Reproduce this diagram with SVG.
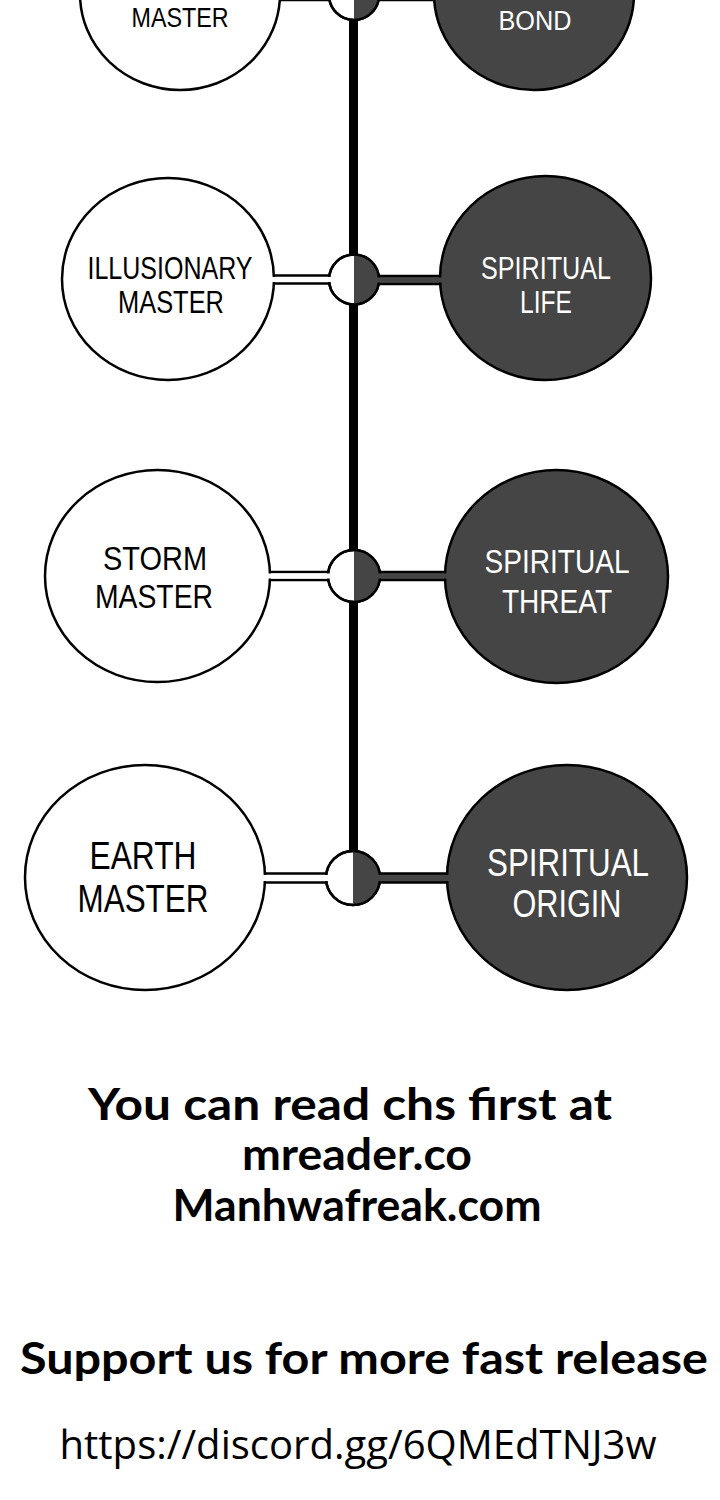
<svg xmlns="http://www.w3.org/2000/svg" width="720" height="1500" viewBox="0 0 720 1500">
<style>
.lc{fill:#fff;stroke:#000;stroke-width:2.5}
.rc{fill:#454545;stroke:#000;stroke-width:2.5}
.co{fill:#fff;stroke:#000;stroke-width:2.5}
.cd{fill:#454545;stroke:#000;stroke-width:2.5}
.fw{fill:#fff}
.fd{fill:#454545}
.jw{fill:#fff;stroke:#000;stroke-width:2.5}
.jd{fill:#454545}
.jo{fill:none;stroke:#000;stroke-width:2.5}
.lt{font-family:"Liberation Sans",Arial,sans-serif;fill:#000;text-anchor:middle}
.rt{font-family:"Liberation Sans",Arial,sans-serif;fill:#fff;text-anchor:middle}
.big{font-family:"Lato","Liberation Sans",sans-serif;font-weight:700;fill:#000;text-anchor:middle}
.url{font-family:"Open Sans","Liberation Sans",sans-serif;fill:#000;text-anchor:middle}
</style>
<rect width="720" height="1500" fill="#fff"/>
<g id="connectors">
<rect x="349" y="-10" width="9" height="870" fill="#000"/>
<rect class="co" x="240" y="-8" width="100" height="8"/>
<rect class="cd" x="370" y="-8" width="100" height="8"/>
<rect class="co" x="240" y="275.5" width="100" height="8"/>
<rect class="cd" x="370" y="276" width="110" height="8"/>
<rect class="co" x="240" y="572" width="100" height="8"/>
<rect class="cd" x="370" y="572" width="110" height="8"/>
<rect class="co" x="240" y="873.5" width="100" height="9"/>
<rect class="cd" x="370" y="873.5" width="110" height="9"/>
</g>
<g id="node-master-top">
<ellipse class="lc" cx="180" cy="-6" rx="100" ry="96"/>
<text class="lt" x="180" y="27" font-size="27" textLength="97" lengthAdjust="spacingAndGlyphs">MASTER</text>
</g>
<g id="node-bond">
<ellipse class="rc" cx="534" cy="-6" rx="100" ry="96"/>
<text class="rt" x="535" y="30" font-size="27" textLength="73" lengthAdjust="spacingAndGlyphs">BOND</text>
</g>
<g id="node-illusionary-master">
<ellipse class="lc" cx="168" cy="279" rx="106" ry="101"/>
<text class="lt" x="170" y="279" font-size="31" textLength="165" lengthAdjust="spacingAndGlyphs">ILLUSIONARY</text>
<text class="lt" x="171" y="313" font-size="31" textLength="106" lengthAdjust="spacingAndGlyphs">MASTER</text>
</g>
<g id="node-spiritual-life">
<ellipse class="rc" cx="545.5" cy="278" rx="105.5" ry="102"/>
<text class="rt" x="546" y="279" font-size="31" textLength="130" lengthAdjust="spacingAndGlyphs">SPIRITUAL</text>
<text class="rt" x="546" y="313" font-size="31" textLength="52" lengthAdjust="spacingAndGlyphs">LIFE</text>
</g>
<g id="node-storm-master">
<ellipse class="lc" cx="157.5" cy="576" rx="112.5" ry="106"/>
<text class="lt" x="155" y="570" font-size="34" textLength="104" lengthAdjust="spacingAndGlyphs">STORM</text>
<text class="lt" x="154" y="608" font-size="34" textLength="118" lengthAdjust="spacingAndGlyphs">MASTER</text>
</g>
<g id="node-spiritual-threat">
<ellipse class="rc" cx="556.5" cy="576.5" rx="111.5" ry="106.5"/>
<text class="rt" x="557" y="573" font-size="34" textLength="145" lengthAdjust="spacingAndGlyphs">SPIRITUAL</text>
<text class="rt" x="557" y="613" font-size="34" textLength="110" lengthAdjust="spacingAndGlyphs">THREAT</text>
</g>
<g id="node-earth-master">
<ellipse class="lc" cx="145" cy="877.5" rx="120" ry="112.5"/>
<text class="lt" x="143" y="869" font-size="38" textLength="107" lengthAdjust="spacingAndGlyphs">EARTH</text>
<text class="lt" x="143" y="912" font-size="38" textLength="131" lengthAdjust="spacingAndGlyphs">MASTER</text>
</g>
<g id="node-spiritual-origin">
<ellipse class="rc" cx="567" cy="877.5" rx="120" ry="112.5"/>
<text class="rt" x="568" y="876" font-size="38" textLength="162" lengthAdjust="spacingAndGlyphs">SPIRITUAL</text>
<text class="rt" x="567" y="917" font-size="38" textLength="109" lengthAdjust="spacingAndGlyphs">ORIGIN</text>
</g>
<g id="junction-1">
<circle class="jw" cx="354" cy="-5" r="25"/>
<path class="jd" d="M354 -30 A25 25 0 0 1 354 20 Z"/>
<circle class="jo" cx="354" cy="-5" r="25"/>
</g>
<g id="junction-2">
<circle class="jw" cx="354" cy="279.5" r="25"/>
<path class="jd" d="M354 254.5 A25 25 0 0 1 354 304.5 Z"/>
<circle class="jo" cx="354" cy="279.5" r="25"/>
</g>
<g id="junction-3">
<circle class="jw" cx="354" cy="576" r="26"/>
<path class="jd" d="M354 550 A26 26 0 0 1 354 602 Z"/>
<circle class="jo" cx="354" cy="576" r="26"/>
</g>
<g id="junction-4">
<circle class="jw" cx="353" cy="878" r="27"/>
<path class="jd" d="M353 851 A27 27 0 0 1 353 905 Z"/>
<circle class="jo" cx="353" cy="878" r="27"/>
</g>
<g id="connector-joins">
<rect class="fw" x="270" y="-6.5" width="66" height="5"/>
<rect class="fd" x="372" y="-6.5" width="66" height="5"/>
<rect class="fw" x="268" y="277" width="66" height="5"/>
<rect class="fd" x="374" y="277.5" width="72" height="5"/>
<rect class="fw" x="264" y="573.5" width="68" height="5"/>
<rect class="fd" x="376" y="573.5" width="74" height="5"/>
<rect class="fw" x="259" y="875" width="70" height="6"/>
<rect class="fd" x="377" y="875" width="74" height="6"/>
</g>
<g id="footer">
<text class="big" x="350" y="1120" font-size="44" textLength="524" lengthAdjust="spacingAndGlyphs">You can read chs first at</text>
<text class="big" x="357" y="1170" font-size="44" textLength="230" lengthAdjust="spacingAndGlyphs">mreader.co</text>
<text class="big" x="357" y="1221" font-size="44" textLength="369" lengthAdjust="spacingAndGlyphs">Manhwafreak.com</text>
<text class="big" x="364" y="1374" font-size="44" textLength="688" lengthAdjust="spacingAndGlyphs">Support us for more fast release</text>
<text class="url" x="358" y="1459" font-size="40" textLength="597" lengthAdjust="spacingAndGlyphs">https://discord.gg/6QMEdTNJ3w</text>
</g>
</svg>
